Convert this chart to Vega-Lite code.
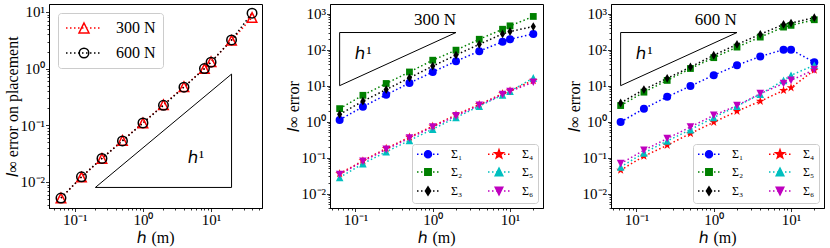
{
  "$schema": "https://vega.github.io/schema/vega-lite/v6.json",
  "padding": {"left": 3, "right": 3, "top": 3, "bottom": 2},
  "bounds": "flush",
  "spacing": 68,
  "resolve": {"scale": {"color": "independent"}, "legend": {"color": "independent"}},
  "config": {
    "font": "Liberation Serif",
    "view": {"stroke": "black", "strokeWidth": 1},
    "axis": {"grid": false, "domainColor": "black", "tickColor": "black", "labelColor": "black", "titleColor": "black", "labelFont": "Liberation Serif", "titleFont": "Liberation Serif", "labelFontSize": 15, "titleFontSize": 16, "titleFontWeight": "normal", "labelPadding": 1, "tickWidth": 0.8, "domainWidth": 1, "labelOverlap": false, "labelFlush": false, "titlePadding": 2},
    "axisY": {"titlePadding": 0},
    "legend": {"strokeColor": "#cccccc", "fillColor": "white", "cornerRadius": 3, "labelColor": "black", "labelFont": "Liberation Serif", "symbolSize": 100, "symbolStrokeWidth": 1.5},
    "text": {"font": "Liberation Serif"}
  },
  "datasets": {
    "p1": [
      {"h": 0.0625, "err": 0.0052, "s": "300 N"}, {"h": 0.125, "err": 0.0122, "s": "300 N"}, {"h": 0.25, "err": 0.026, "s": "300 N"}, {"h": 0.5, "err": 0.054, "s": "300 N"}, {"h": 1, "err": 0.11, "s": "300 N"}, {"h": 2, "err": 0.23, "s": "300 N"}, {"h": 4, "err": 0.48, "s": "300 N"}, {"h": 8, "err": 1.0, "s": "300 N"}, {"h": 10, "err": 1.32, "s": "300 N"}, {"h": 20, "err": 3.15, "s": "300 N"}, {"h": 40, "err": 8.0, "s": "300 N"},
      {"h": 0.0625, "err": 0.0052, "s": "600 N"}, {"h": 0.125, "err": 0.0123, "s": "600 N"}, {"h": 0.25, "err": 0.026, "s": "600 N"}, {"h": 0.5, "err": 0.053, "s": "600 N"}, {"h": 1, "err": 0.11, "s": "600 N"}, {"h": 2, "err": 0.225, "s": "600 N"}, {"h": 4, "err": 0.47, "s": "600 N"}, {"h": 8, "err": 1.0, "s": "600 N"}, {"h": 10, "err": 1.3, "s": "600 N"}, {"h": 20, "err": 3.2, "s": "600 N"}, {"h": 40, "err": 9.5, "s": "600 N"}
    ],
    "p2": [
      {"h": 0.0625, "err": 1.12, "s": "Σ₁"}, {"h": 0.125, "err": 2.6, "s": "Σ₁"}, {"h": 0.25, "err": 5.6, "s": "Σ₁"}, {"h": 0.5, "err": 11.8, "s": "Σ₁"}, {"h": 1, "err": 24, "s": "Σ₁"}, {"h": 2, "err": 48, "s": "Σ₁"}, {"h": 4, "err": 91, "s": "Σ₁"}, {"h": 8, "err": 166, "s": "Σ₁"}, {"h": 10, "err": 195, "s": "Σ₁"}, {"h": 20, "err": 275, "s": "Σ₁"},
      {"h": 0.0625, "err": 2.3, "s": "Σ₂"}, {"h": 0.125, "err": 5.4, "s": "Σ₂"}, {"h": 0.25, "err": 11.5, "s": "Σ₂"}, {"h": 0.5, "err": 24, "s": "Σ₂"}, {"h": 1, "err": 51, "s": "Σ₂"}, {"h": 2, "err": 97, "s": "Σ₂"}, {"h": 4, "err": 195, "s": "Σ₂"}, {"h": 8, "err": 370, "s": "Σ₂"}, {"h": 10, "err": 460, "s": "Σ₂"}, {"h": 20, "err": 840, "s": "Σ₂"},
      {"h": 0.0625, "err": 1.6, "s": "Σ₃"}, {"h": 0.125, "err": 3.7, "s": "Σ₃"}, {"h": 0.25, "err": 7.8, "s": "Σ₃"}, {"h": 0.5, "err": 16.5, "s": "Σ₃"}, {"h": 1, "err": 35, "s": "Σ₃"}, {"h": 2, "err": 71, "s": "Σ₃"}, {"h": 4, "err": 141, "s": "Σ₃"}, {"h": 8, "err": 275, "s": "Σ₃"}, {"h": 10, "err": 320, "s": "Σ₃"}, {"h": 20, "err": 440, "s": "Σ₃"},
      {"h": 0.0625, "err": 0.036, "s": "Σ₄"}, {"h": 0.125, "err": 0.082, "s": "Σ₄"}, {"h": 0.25, "err": 0.18, "s": "Σ₄"}, {"h": 0.5, "err": 0.37, "s": "Σ₄"}, {"h": 1, "err": 0.75, "s": "Σ₄"}, {"h": 2, "err": 1.55, "s": "Σ₄"}, {"h": 4, "err": 3.0, "s": "Σ₄"}, {"h": 8, "err": 6.0, "s": "Σ₄"}, {"h": 10, "err": 7.2, "s": "Σ₄"}, {"h": 20, "err": 14, "s": "Σ₄"},
      {"h": 0.0625, "err": 0.028, "s": "Σ₅"}, {"h": 0.125, "err": 0.068, "s": "Σ₅"}, {"h": 0.25, "err": 0.145, "s": "Σ₅"}, {"h": 0.5, "err": 0.3, "s": "Σ₅"}, {"h": 1, "err": 0.62, "s": "Σ₅"}, {"h": 2, "err": 1.3, "s": "Σ₅"}, {"h": 4, "err": 2.7, "s": "Σ₅"}, {"h": 8, "err": 5.5, "s": "Σ₅"}, {"h": 10, "err": 7.0, "s": "Σ₅"}, {"h": 20, "err": 16.5, "s": "Σ₅"},
      {"h": 0.0625, "err": 0.034, "s": "Σ₆"}, {"h": 0.125, "err": 0.079, "s": "Σ₆"}, {"h": 0.25, "err": 0.17, "s": "Σ₆"}, {"h": 0.5, "err": 0.35, "s": "Σ₆"}, {"h": 1, "err": 0.71, "s": "Σ₆"}, {"h": 2, "err": 1.45, "s": "Σ₆"}, {"h": 4, "err": 2.85, "s": "Σ₆"}, {"h": 8, "err": 5.7, "s": "Σ₆"}, {"h": 10, "err": 6.9, "s": "Σ₆"}, {"h": 20, "err": 12.5, "s": "Σ₆"}
    ],
    "p3": [
      {"h": 0.0625, "err": 0.98, "s": "Σ₁"}, {"h": 0.125, "err": 2.3, "s": "Σ₁"}, {"h": 0.25, "err": 4.9, "s": "Σ₁"}, {"h": 0.5, "err": 9.8, "s": "Σ₁"}, {"h": 1, "err": 19.5, "s": "Σ₁"}, {"h": 2, "err": 37, "s": "Σ₁"}, {"h": 4, "err": 65, "s": "Σ₁"}, {"h": 8, "err": 100, "s": "Σ₁"}, {"h": 10, "err": 100, "s": "Σ₁"}, {"h": 20, "err": 45, "s": "Σ₁"},
      {"h": 0.0625, "err": 2.8, "s": "Σ₂"}, {"h": 0.125, "err": 6.6, "s": "Σ₂"}, {"h": 0.25, "err": 14, "s": "Σ₂"}, {"h": 0.5, "err": 30, "s": "Σ₂"}, {"h": 1, "err": 60, "s": "Σ₂"}, {"h": 2, "err": 118, "s": "Σ₂"}, {"h": 4, "err": 224, "s": "Σ₂"}, {"h": 8, "err": 425, "s": "Σ₂"}, {"h": 10, "err": 475, "s": "Σ₂"}, {"h": 20, "err": 680, "s": "Σ₂"},
      {"h": 0.0625, "err": 3.3, "s": "Σ₃"}, {"h": 0.125, "err": 7.8, "s": "Σ₃"}, {"h": 0.25, "err": 16, "s": "Σ₃"}, {"h": 0.5, "err": 33, "s": "Σ₃"}, {"h": 1, "err": 70, "s": "Σ₃"}, {"h": 2, "err": 140, "s": "Σ₃"}, {"h": 4, "err": 267, "s": "Σ₃"}, {"h": 8, "err": 505, "s": "Σ₃"}, {"h": 10, "err": 550, "s": "Σ₃"}, {"h": 20, "err": 775, "s": "Σ₃"},
      {"h": 0.0625, "err": 0.045, "s": "Σ₄"}, {"h": 0.125, "err": 0.11, "s": "Σ₄"}, {"h": 0.25, "err": 0.22, "s": "Σ₄"}, {"h": 0.5, "err": 0.47, "s": "Σ₄"}, {"h": 1, "err": 0.96, "s": "Σ₄"}, {"h": 2, "err": 1.95, "s": "Σ₄"}, {"h": 4, "err": 3.7, "s": "Σ₄"}, {"h": 8, "err": 7.4, "s": "Σ₄"}, {"h": 10, "err": 8.8, "s": "Σ₄"}, {"h": 20, "err": 27, "s": "Σ₄"},
      {"h": 0.0625, "err": 0.055, "s": "Σ₅"}, {"h": 0.125, "err": 0.135, "s": "Σ₅"}, {"h": 0.25, "err": 0.29, "s": "Σ₅"}, {"h": 0.5, "err": 0.6, "s": "Σ₅"}, {"h": 1, "err": 1.3, "s": "Σ₅"}, {"h": 2, "err": 2.7, "s": "Σ₅"}, {"h": 4, "err": 5.8, "s": "Σ₅"}, {"h": 8, "err": 14, "s": "Σ₅"}, {"h": 10, "err": 19.5, "s": "Σ₅"}, {"h": 20, "err": 37, "s": "Σ₅"},
      {"h": 0.0625, "err": 0.068, "s": "Σ₆"}, {"h": 0.125, "err": 0.16, "s": "Σ₆"}, {"h": 0.25, "err": 0.34, "s": "Σ₆"}, {"h": 0.5, "err": 0.71, "s": "Σ₆"}, {"h": 1, "err": 1.5, "s": "Σ₆"}, {"h": 2, "err": 2.8, "s": "Σ₆"}, {"h": 4, "err": 6.0, "s": "Σ₆"}, {"h": 8, "err": 11.5, "s": "Σ₆"}, {"h": 10, "err": 14, "s": "Σ₆"}, {"h": 20, "err": 28, "s": "Σ₆"}
    ],
    "tri1": [{"h": 0.2, "err": 0.008, "o": 1}, {"h": 20, "err": 0.008, "o": 2}, {"h": 20, "err": 0.8, "o": 3}, {"h": 0.2, "err": 0.008, "o": 4}],
    "tri23": [{"h": 0.0625, "err": 10, "o": 1}, {"h": 0.0625, "err": 300, "o": 2}, {"h": 2, "err": 300, "o": 3}, {"h": 0.0625, "err": 10, "o": 4}],
    "ann1": [{"h": 6, "err": 0.026, "t": "ℎ¹"}],
    "ann2": [{"h": 0.127, "err": 74, "t": "ℎ¹"}, {"h": 1.07, "err": 660, "t": "300 N"}],
    "ann3": [{"h": 0.127, "err": 74, "t": "ℎ¹"}, {"h": 1.06, "err": 660, "t": "600 N"}]
  },
  "hconcat": [
    {
      "width": 213, "height": 204,
      "encoding": {
        "x": {"field": "h", "type": "quantitative", "scale": {"type": "log", "domain": [0.0417, 56], "nice": false},
          "axis": {"title": "ℎ (m)", "values": [0.05,0.06,0.07,0.08,0.09,0.1,0.2,0.3,0.4,0.5,0.6,0.7,0.8,0.9,1,2,3,4,5,6,7,8,9,10,20,30,40,50],
            "labelExpr": "datum.value === 0.1 ? '10⁻¹' : datum.value === 1 ? '10⁰' : datum.value === 10 ? '10¹' : ''",
            "tickSize": {"condition": {"test": "indexof([0.1,1,10], datum.value) >= 0", "value": 3.5}, "value": 2}}},
        "y": {"field": "err", "type": "quantitative", "scale": {"type": "log", "domain": [0.00347, 13.8], "nice": false},
          "axis": {"title": "𝑙∞ error on placement", "values": [0.004,0.005,0.006,0.007,0.008,0.009,0.01,0.02,0.03,0.04,0.05,0.06,0.07,0.08,0.09,0.1,0.2,0.3,0.4,0.5,0.6,0.7,0.8,0.9,1,2,3,4,5,6,7,8,9,10],
            "labelExpr": "datum.value === 0.01 ? '10⁻²' : datum.value === 0.1 ? '10⁻¹' : datum.value === 1 ? '10⁰' : datum.value === 10 ? '10¹' : ''",
            "tickSize": {"condition": {"test": "indexof([0.01,0.1,1,10], datum.value) >= 0", "value": 3.5}, "value": 2}}}
      },
      "layer": [
        {"data": {"name": "tri1"}, "mark": {"type": "line", "color": "black", "strokeWidth": 1}, "encoding": {"order": {"field": "o", "type": "quantitative"}}},
        {"data": {"name": "ann1"}, "mark": {"type": "text", "fontSize": 17, "align": "center", "baseline": "middle", "color": "black"}, "encoding": {"text": {"field": "t", "type": "nominal"}}},
        {"data": {"name": "p1"}, "mark": {"type": "line", "strokeDash": [1.5, 2.5], "strokeWidth": 1.5},
          "encoding": {"color": {"field": "s", "type": "nominal", "scale": {"domain": ["300 N", "600 N"], "range": ["#ff0000", "#000000"]}}}},
        {"data": {"name": "p1"}, "mark": {"type": "point", "filled": false, "strokeWidth": 1.5, "size": 90, "opacity": 1, "shape": {"expr": "datum.s === '300 N' ? 'M0,-1L1,1L-1,1Z' : 'circle'"}},
          "encoding": {
            "color": {"field": "s", "type": "nominal", "scale": {"domain": ["300 N", "600 N"], "range": ["#ff0000", "#000000"]},
              "legend": {"title": null, "orient": "top-left", "offset": 9, "padding": 7, "labelFontSize": 16, "labelOffset": 35, "rowPadding": 9,
                "encoding": {"symbols": {
                  "shape": {"value": {"expr": "datum.value === '300 N' ? 'M-1.4,0h0.3M-0.6,0h0.3M0.2,0h0.3M1,0h0.3M1.8,0h0.3M2.6,0h0.3M3.4,0h0.3M4.2,0h0.3M5,0h0.3M2.2,-1L3.2,1L1.2,1Z' : 'M-1.4,0h0.3M-0.6,0h0.3M0.2,0h0.3M1,0h0.3M1.8,0h0.3M2.6,0h0.3M3.4,0h0.3M4.2,0h0.3M5,0h0.3M3.15,0A0.95,0.95,0,1,1,1.25,0A0.95,0.95,0,1,1,3.15,0Z'"}},
                  "fill": {"value": "transparent"},
                  "strokeWidth": {"value": 1.5},
                  "opacity": {"value": 1}}}}}}}
      ]
    },
    {
      "width": 213, "height": 204,
      "encoding": {
        "x": {"field": "h", "type": "quantitative", "scale": {"type": "log", "domain": [0.0469, 26.7], "nice": false},
          "axis": {"title": "ℎ (m)", "values": [0.05,0.06,0.07,0.08,0.09,0.1,0.2,0.3,0.4,0.5,0.6,0.7,0.8,0.9,1,2,3,4,5,6,7,8,9,10,20],
            "labelExpr": "datum.value === 0.1 ? '10⁻¹' : datum.value === 1 ? '10⁰' : datum.value === 10 ? '10¹' : ''",
            "tickSize": {"condition": {"test": "indexof([0.1,1,10], datum.value) >= 0", "value": 3.5}, "value": 2}}},
        "y": {"field": "err", "type": "quantitative", "scale": {"type": "log", "domain": [0.00398, 1862], "nice": false},
          "axis": {"title": "𝑙∞ error", "values": [0.004,0.005,0.006,0.007,0.008,0.009,0.01,0.02,0.03,0.04,0.05,0.06,0.07,0.08,0.09,0.1,0.2,0.3,0.4,0.5,0.6,0.7,0.8,0.9,1,2,3,4,5,6,7,8,9,10,20,30,40,50,60,70,80,90,100,200,300,400,500,600,700,800,900,1000],
            "labelExpr": "datum.value === 0.01 ? '10⁻²' : datum.value === 0.1 ? '10⁻¹' : datum.value === 1 ? '10⁰' : datum.value === 10 ? '10¹' : datum.value === 100 ? '10²' : datum.value === 1000 ? '10³' : ''",
            "tickSize": {"condition": {"test": "indexof([0.01,0.1,1,10,100,1000], datum.value) >= 0", "value": 3.5}, "value": 2}}}
      },
      "layer": [
        {"data": {"name": "tri23"}, "mark": {"type": "line", "color": "black", "strokeWidth": 1}, "encoding": {"order": {"field": "o", "type": "quantitative"}}},
        {"data": {"name": "ann2"}, "mark": {"type": "text", "fontSize": 17, "align": "center", "baseline": "middle", "color": "black"}, "encoding": {"text": {"field": "t", "type": "nominal"}}},
        {"data": {"name": "p2"}, "mark": {"type": "line", "strokeDash": [1.5, 2.5], "strokeWidth": 1.5},
          "encoding": {"color": {"field": "s", "type": "nominal", "scale": {"domain": ["Σ₁", "Σ₂", "Σ₃", "Σ₄", "Σ₅", "Σ₆"], "range": ["#0000ff", "#008000", "#000000", "#ff0000", "#00bfbf", "#bf00bf"]}}}},
        {"data": {"name": "p2"}, "mark": {"type": "point", "filled": true, "size": 64, "opacity": 1, "shape": {"expr": "datum.s === 'Σ₁' ? 'circle' : datum.s === 'Σ₂' ? 'M-0.85,-0.85H0.85V0.85H-0.85Z' : datum.s === 'Σ₃' ? 'M0,-1.1L0.65,0L0,1.1L-0.65,0Z' : datum.s === 'Σ₄' ? 'M0,-1.15L0.265,-0.364L1.094,-0.355L0.428,0.139L0.676,0.93L0,0.45L-0.676,0.93L-0.428,0.139L-1.094,-0.355L-0.265,-0.364Z' : datum.s === 'Σ₅' ? 'M0,-0.95L0.95,0.95L-0.95,0.95Z' : 'M0,0.95L0.95,-0.95L-0.95,-0.95Z'"}},
          "encoding": {
            "color": {"field": "s", "type": "nominal", "scale": {"domain": ["Σ₁", "Σ₂", "Σ₃", "Σ₄", "Σ₅", "Σ₆"], "range": ["#0000ff", "#008000", "#000000", "#ff0000", "#00bfbf", "#bf00bf"]},
              "legend": {"title": null, "orient": "bottom-right", "offset": 5, "padding": 4, "columns": 2, "labelFontSize": 12, "labelOffset": 23, "columnPadding": 22, "rowPadding": 4,
                "encoding": {"symbols": {
                  "shape": {"value": {"expr": "datum.value === 'Σ₁' ? 'M-1,0h0.3M-0.2,0h0.3M0.6,0h0.3M1.4,0h0.3M2.2,0h0.3M3,0h0.3M1.9,0A0.7,0.7,0,1,1,0.5,0A0.7,0.7,0,1,1,1.9,0Z' : datum.value === 'Σ₂' ? 'M-1,0h0.3M-0.2,0h0.3M0.6,0h0.3M1.4,0h0.3M2.2,0h0.3M3,0h0.3M0.56,-0.64H1.84V0.64H0.56Z' : datum.value === 'Σ₃' ? 'M-1,0h0.3M-0.2,0h0.3M0.6,0h0.3M1.4,0h0.3M2.2,0h0.3M3,0h0.3M1.2,-0.84L1.72,0L1.2,0.84L0.68,0Z' : datum.value === 'Σ₄' ? 'M-1,0h0.3M-0.2,0h0.3M0.6,0h0.3M1.4,0h0.3M2.2,0h0.3M3,0h0.3M1.2,-0.9L1.417,-0.299L2.056,-0.278L1.552,0.114L1.729,0.728L1.2,0.37L0.671,0.728L0.848,0.114L0.344,-0.278L0.983,-0.299Z' : datum.value === 'Σ₅' ? 'M-1,0h0.3M-0.2,0h0.3M0.6,0h0.3M1.4,0h0.3M2.2,0h0.3M3,0h0.3M1.2,-0.76L1.96,0.76L0.44,0.76Z' : 'M-1,0h0.3M-0.2,0h0.3M0.6,0h0.3M1.4,0h0.3M2.2,0h0.3M3,0h0.3M1.2,0.76L1.96,-0.76L0.44,-0.76Z'"}},
                  "strokeWidth": {"value": 1.5},
                  "opacity": {"value": 1}}}}}}}
      ]
    },
    {
      "width": 213, "height": 204,
      "encoding": {
        "x": {"field": "h", "type": "quantitative", "scale": {"type": "log", "domain": [0.0469, 26.7], "nice": false},
          "axis": {"title": "ℎ (m)", "values": [0.05,0.06,0.07,0.08,0.09,0.1,0.2,0.3,0.4,0.5,0.6,0.7,0.8,0.9,1,2,3,4,5,6,7,8,9,10,20],
            "labelExpr": "datum.value === 0.1 ? '10⁻¹' : datum.value === 1 ? '10⁰' : datum.value === 10 ? '10¹' : ''",
            "tickSize": {"condition": {"test": "indexof([0.1,1,10], datum.value) >= 0", "value": 3.5}, "value": 2}}},
        "y": {"field": "err", "type": "quantitative", "scale": {"type": "log", "domain": [0.00398, 1862], "nice": false},
          "axis": {"title": "𝑙∞ error", "values": [0.004,0.005,0.006,0.007,0.008,0.009,0.01,0.02,0.03,0.04,0.05,0.06,0.07,0.08,0.09,0.1,0.2,0.3,0.4,0.5,0.6,0.7,0.8,0.9,1,2,3,4,5,6,7,8,9,10,20,30,40,50,60,70,80,90,100,200,300,400,500,600,700,800,900,1000],
            "labelExpr": "datum.value === 0.01 ? '10⁻²' : datum.value === 0.1 ? '10⁻¹' : datum.value === 1 ? '10⁰' : datum.value === 10 ? '10¹' : datum.value === 100 ? '10²' : datum.value === 1000 ? '10³' : ''",
            "tickSize": {"condition": {"test": "indexof([0.01,0.1,1,10,100,1000], datum.value) >= 0", "value": 3.5}, "value": 2}}}
      },
      "layer": [
        {"data": {"name": "tri23"}, "mark": {"type": "line", "color": "black", "strokeWidth": 1}, "encoding": {"order": {"field": "o", "type": "quantitative"}}},
        {"data": {"name": "ann3"}, "mark": {"type": "text", "fontSize": 17, "align": "center", "baseline": "middle", "color": "black"}, "encoding": {"text": {"field": "t", "type": "nominal"}}},
        {"data": {"name": "p3"}, "mark": {"type": "line", "strokeDash": [1.5, 2.5], "strokeWidth": 1.5},
          "encoding": {"color": {"field": "s", "type": "nominal", "scale": {"domain": ["Σ₁", "Σ₂", "Σ₃", "Σ₄", "Σ₅", "Σ₆"], "range": ["#0000ff", "#008000", "#000000", "#ff0000", "#00bfbf", "#bf00bf"]}}}},
        {"data": {"name": "p3"}, "mark": {"type": "point", "filled": true, "size": 64, "opacity": 1, "shape": {"expr": "datum.s === 'Σ₁' ? 'circle' : datum.s === 'Σ₂' ? 'M-0.85,-0.85H0.85V0.85H-0.85Z' : datum.s === 'Σ₃' ? 'M0,-1.1L0.65,0L0,1.1L-0.65,0Z' : datum.s === 'Σ₄' ? 'M0,-1.15L0.265,-0.364L1.094,-0.355L0.428,0.139L0.676,0.93L0,0.45L-0.676,0.93L-0.428,0.139L-1.094,-0.355L-0.265,-0.364Z' : datum.s === 'Σ₅' ? 'M0,-0.95L0.95,0.95L-0.95,0.95Z' : 'M0,0.95L0.95,-0.95L-0.95,-0.95Z'"}},
          "encoding": {
            "color": {"field": "s", "type": "nominal", "scale": {"domain": ["Σ₁", "Σ₂", "Σ₃", "Σ₄", "Σ₅", "Σ₆"], "range": ["#0000ff", "#008000", "#000000", "#ff0000", "#00bfbf", "#bf00bf"]},
              "legend": {"title": null, "orient": "bottom-right", "offset": 5, "padding": 4, "columns": 2, "labelFontSize": 12, "labelOffset": 23, "columnPadding": 22, "rowPadding": 4,
                "encoding": {"symbols": {
                  "shape": {"value": {"expr": "datum.value === 'Σ₁' ? 'M-1,0h0.3M-0.2,0h0.3M0.6,0h0.3M1.4,0h0.3M2.2,0h0.3M3,0h0.3M1.9,0A0.7,0.7,0,1,1,0.5,0A0.7,0.7,0,1,1,1.9,0Z' : datum.value === 'Σ₂' ? 'M-1,0h0.3M-0.2,0h0.3M0.6,0h0.3M1.4,0h0.3M2.2,0h0.3M3,0h0.3M0.56,-0.64H1.84V0.64H0.56Z' : datum.value === 'Σ₃' ? 'M-1,0h0.3M-0.2,0h0.3M0.6,0h0.3M1.4,0h0.3M2.2,0h0.3M3,0h0.3M1.2,-0.84L1.72,0L1.2,0.84L0.68,0Z' : datum.value === 'Σ₄' ? 'M-1,0h0.3M-0.2,0h0.3M0.6,0h0.3M1.4,0h0.3M2.2,0h0.3M3,0h0.3M1.2,-0.9L1.417,-0.299L2.056,-0.278L1.552,0.114L1.729,0.728L1.2,0.37L0.671,0.728L0.848,0.114L0.344,-0.278L0.983,-0.299Z' : datum.value === 'Σ₅' ? 'M-1,0h0.3M-0.2,0h0.3M0.6,0h0.3M1.4,0h0.3M2.2,0h0.3M3,0h0.3M1.2,-0.76L1.96,0.76L0.44,0.76Z' : 'M-1,0h0.3M-0.2,0h0.3M0.6,0h0.3M1.4,0h0.3M2.2,0h0.3M3,0h0.3M1.2,0.76L1.96,-0.76L0.44,-0.76Z'"}},
                  "strokeWidth": {"value": 1.5},
                  "opacity": {"value": 1}}}}}}}
      ]
    }
  ]
}
